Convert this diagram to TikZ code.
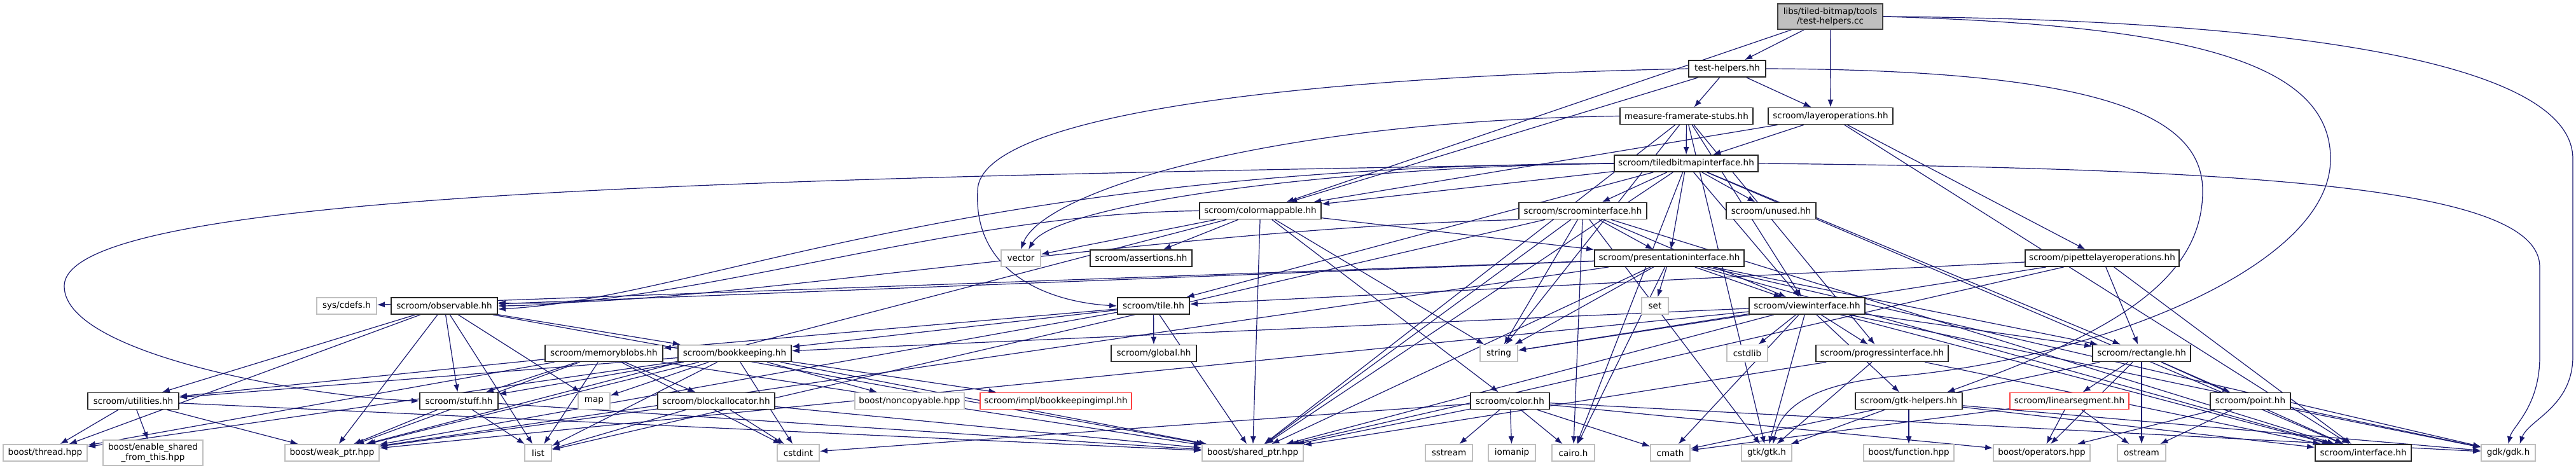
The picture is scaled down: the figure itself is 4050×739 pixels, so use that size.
\documentclass[tikz,border=0pt]{standalone}
\usepackage{fontspec}
\setmainfont{DejaVu Sans}
\usepackage{xcolor}
\usetikzlibrary{arrows.meta,backgrounds}
\definecolor{edgeblue}{HTML}{191970}
\definecolor{greybox}{HTML}{BFBFBF}

\begin{document}
\begin{tikzpicture}[
  x=1bp, y=-1bp,
  >={Latex[length=12bp,width=9bp]},
  font=\fontsize{13.6}{15.5}\selectfont,
  every node/.style={rectangle, inner sep=0pt, minimum height=26bp, align=center, line width=1.8bp},
  doc/.style={draw=black!85, fill=white},
  sys/.style={draw=greybox, fill=white},
  miss/.style={draw=red!75, fill=white},
  top/.style={draw=black!75, fill=greybox, minimum height=40bp},
  dep/.style={->, draw=edgeblue, line width=1.2bp},
]
\useasboundingbox (0,0) rectangle (4050,739);

\node[top, minimum width=165bp] (root) at (2877.5,26) {libs/tiled-bitmap/tools\\/test-helpers.cc};
\node[doc, minimum width=121bp] (th) at (2715.5,108) {test-helpers.hh};
\node[doc, minimum width=209bp] (mfs) at (2651.5,182.5) {measure-framerate-stubs.hh};
\node[doc, minimum width=196bp] (lop) at (2878,182.5) {scroom/layeroperations.hh};
\node[doc, minimum width=226bp] (tbi) at (2651,257) {scroom/tiledbitmapinterface.hh};
\node[doc, minimum width=191bp] (cmap) at (1981.5,331.5) {scroom/colormappable.hh};
\node[doc, minimum width=201bp] (sci) at (2488.5,331.5) {scroom/scroominterface.hh};
\node[doc, minimum width=141bp] (unused) at (2784.5,331.5) {scroom/unused.hh};
\node[sys, minimum width=62bp] (vector) at (1605,406) {vector};
\node[doc, minimum width=160bp] (assert) at (1794,406) {scroom/assertions.hh};
\node[doc, minimum width=235bp] (pi) at (2624.5,406) {scroom/presentationinterface.hh};
\node[doc, minimum width=242bp] (pipe) at (3305,406) {scroom/pipettelayeroperations.hh};
\node[sys, minimum width=94bp] (cdefs) at (545,481) {sys/cdefs.h};
\node[doc, minimum width=167bp] (obs) at (698.5,481) {scroom/observable.hh};
\node[doc, minimum width=113bp] (tile) at (1813.5,481) {scroom/tile.hh};
\node[sys, minimum width=42bp] (set) at (2602,481) {set};
\node[doc, minimum width=182bp] (vi) at (2841,481) {scroom/viewinterface.hh};
\node[doc, minimum width=185bp] (mb) at (949.5,555.5) {scroom/memoryblobs.hh};
\node[doc, minimum width=178bp] (bk) at (1155,555.5) {scroom/bookkeeping.hh};
\node[doc, minimum width=134bp] (global) at (1814,555.5) {scroom/global.hh};
\node[sys, minimum width=59bp] (string) at (2356.5,555.5) {string};
\node[sys, minimum width=64bp] (cstdlib) at (2747,555.5) {cstdlib};
\node[doc, minimum width=208bp] (progi) at (2959,555.5) {scroom/progressinterface.hh};
\node[doc, minimum width=154bp] (rect) at (3367,555.5) {scroom/rectangle.hh};
\node[doc, minimum width=143bp] (util) at (209.5,630.5) {scroom/utilities.hh};
\node[doc, minimum width=123bp] (stuff) at (721.5,630.5) {scroom/stuff.hh};
\node[sys, minimum width=50bp] (map) at (934,630.5) {map};
\node[doc, minimum width=184bp] (ba) at (1126,630.5) {scroom/blockallocator.hh};
\node[sys, minimum width=172bp] (nonc) at (1430,630.5) {boost/noncopyable.hpp};
\node[miss, minimum width=238bp] (bki) at (1660,630.5) {scroom/impl/bookkeepingimpl.hh};
\node[doc, minimum width=124bp] (color) at (2374,630.5) {scroom/color.hh};
\node[doc, minimum width=168bp] (gtkh) at (3001,630.5) {scroom/gtk-helpers.hh};
\node[miss, minimum width=187bp] (ls) at (3253.5,630.5) {scroom/linearsegment.hh};
\node[doc, minimum width=126bp] (point) at (3538,630.5) {scroom/point.hh};
\node[sys, minimum width=132bp] (thread) at (71,712) {boost/thread.hpp};
\node[sys, minimum width=157bp, minimum height=40bp] (esft) at (240.5,712) {boost/enable\_shared\\\_from\_this.hpp};
\node[sys, minimum width=148bp] (weak) at (522,712) {boost/weak\_ptr.hpp};
\node[sys, minimum width=42bp] (list) at (846,712) {list};
\node[sys, minimum width=66bp] (cstdint) at (1255,712) {cstdint};
\node[sys, minimum width=159bp] (shared) at (1969.5,712) {boost/shared\_ptr.hpp};
\node[sys, minimum width=74bp] (sstream) at (2278,712) {sstream};
\node[sys, minimum width=74bp] (iomanip) at (2377,712) {iomanip};
\node[sys, minimum width=67bp] (cairo) at (2473.5,712) {cairo.h};
\node[sys, minimum width=62bp] (cmath) at (2626,712) {cmath};
\node[sys, minimum width=79bp] (gtk) at (2777.5,712) {gtk/gtk.h};
\node[sys, minimum width=142bp] (func) at (3001,712) {boost/function.hpp};
\node[sys, minimum width=152bp] (ops) at (3210,712) {boost/operators.hpp};
\node[sys, minimum width=76bp] (ostream) at (3367,712) {ostream};
\node[doc, minimum width=151bp] (iface) at (3715.5,712) {scroom/interface.hh};
\node[sys, minimum width=85bp] (gdk) at (3943.5,712) {gdk/gdk.h};

\begin{scope}[on background layer]
\foreach \t in {th,lop,cmap} \draw[dep] (root) -- (\t);
\draw[dep] (root.east) .. controls (3500,30) and (4045,80) .. (4045,250) -- (4045,560) .. controls (4045,640) and (3975,660) .. ([xshift=18bp]gdk.north);
\draw[dep] (root.east) .. controls (3450,40) and (3664,100) .. (3664,250) .. controls (3664,420) and (3300,560) .. (3000,590) .. controls (2850,600) and (2800,640) .. ([xshift=10bp]gtk.north);
\foreach \t in {mfs,lop,cmap} \draw[dep] (th) -- (\t);
\draw[dep] (th.west) .. controls (1900,125) and (1537,200) .. (1537,300) .. controls (1530,430) and (1650,475) .. (tile.west);
\draw[dep] (th.east) .. controls (3300,110) and (3463,180) .. (3463,300) .. controls (3463,450) and (3300,530) .. ([xshift=60bp]gtkh.north);
\foreach \t in {tbi,pipe,iface,cmap} \draw[dep] (lop) -- (\t);
\foreach \t in {tbi,string,shared,vi,gtk,progi} \draw[dep] (mfs) -- (\t);
\draw[dep] (mfs.west) .. controls (2000,190) and (1640,300) .. (vector.north);
\foreach \t in {sci,unused,cmap,tile,pi,vi,rect,iface,shared,cairo} \draw[dep] (tbi) -- (\t);
\draw[dep] (tbi.west) .. controls (2100,262) and (1660,320) .. ([xshift=12bp]vector.north);
\draw[dep] (tbi.west) .. controls (1500,262) and (1100,470) .. ([yshift=-5bp]obs.east);
\draw[dep] (tbi.east) .. controls (3600,265) and (3993,300) .. (3993,420) -- (3993,560) .. controls (3993,640) and (3950,670) .. (gdk.north);
\draw[dep] (tbi.west) .. controls (1200,280) and (101,300) .. (101,450) .. controls (101,560) and (500,625) .. (stuff.west);
\foreach \t in {vector,assert,color,pi,shared,string,weak} \draw[dep] (cmap) -- (\t);
\draw[dep] (cmap.west) .. controls (1500,335) and (1100,478) .. (obs.east);
\foreach \t in {pi,vi,string,shared,gtk,iface,cairo,list} \draw[dep] (sci) -- (\t);
\draw[dep] (sci.south west) .. controls (1800,360) and (1100,486) .. ([yshift=5bp]obs.east);
\foreach \t in {set,vi,string,shared,cairo,obs,rect,iface,gdk,cdefs,weak} \draw[dep] (pi) -- (\t);
\foreach \t in {string,cstdlib,progi,gtkh,gtk,cmath,rect,iface,shared,bk,weak,gdk} \draw[dep] (vi) -- (\t);
\foreach \t in {rect,iface,string,tile,shared} \draw[dep] (pipe) -- (\t);
\foreach \t in {shared,iface,gtk} \draw[dep] (progi) -- (\t);
\foreach \t in {global,shared,bk,mb,weak} \draw[dep] (tile) -- (\t);
\foreach \t in {list,map,weak,thread,util,bk,shared,stuff} \draw[dep] (obs) -- (\t);
\foreach \t in {nonc,bki,shared,map,list,weak,thread,stuff,util,cstdint} \draw[dep] (bk) -- (\t);
\foreach \t in {util,weak,list,ba,stuff,cstdint,shared,thread} \draw[dep] (mb) -- (\t);
\foreach \t in {cstdint,shared,weak,list} \draw[dep] (ba) -- (\t);
\foreach \t in {thread,esft,shared,weak} \draw[dep] (util) -- (\t);
\foreach \t in {weak,list,shared} \draw[dep] (stuff) -- (\t);
\foreach \t in {sstream,iomanip,cairo,cmath,shared,gdk,cstdint,ops} \draw[dep] (color) -- (\t);
\foreach \t in {gtk,func,iface,gdk} \draw[dep] (gtkh) -- (\t);
\foreach \t in {ls,ostream,point,ops,cmath,iface} \draw[dep] (rect) -- (\t);
\foreach \t in {ops,ostream,cmath} \draw[dep] (ls) -- (\t);
\foreach \t in {ops,ostream,gdk} \draw[dep] (point) -- (\t);
\end{scope}
\end{tikzpicture}
\end{document}
